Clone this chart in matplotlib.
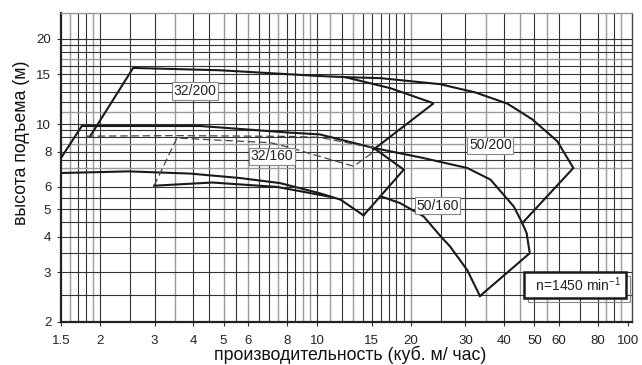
import matplotlib
matplotlib.use('Agg')
import matplotlib.pyplot as plt
from matplotlib.ticker import FixedLocator, FixedFormatter, NullLocator
from matplotlib.patches import Rectangle
from matplotlib.transforms import IdentityTransform

plt.rcParams['font.family'] = ['Liberation Sans', 'DejaVu Sans']
plt.rcParams['mathtext.fontset'] = 'custom'
plt.rcParams['mathtext.rm'] = 'Liberation Sans'
plt.rcParams['mathtext.it'] = 'Liberation Sans'

# ---------------- data ----------------
x_ticks = [1.5, 2, 3, 4, 5, 6, 8, 10, 15, 20, 30, 40, 50, 60, 80, 100]
x_tick_labels = ['1.5', '2', '3', '4', '5', '6', '8', '10', '15', '20', '30', '40', '50', '60', '80', '100']
y_ticks = [2, 3, 4, 5, 6, 8, 10, 15, 20]
y_tick_labels = ['2', '3', '4', '5', '6', '8', '10', '15', '20']

grid_x_dark = [1.7, 1.8, 2, 2.5, 3, 4, 4.5, 5.5, 6.5, 7, 8, 8.5, 10, 12, 14, 15, 16, 17, 18, 19,
               25, 30, 40, 50, 60, 70, 80, 90]
grid_x_light = [1.6, 1.9, 3.5, 5, 6, 7.5, 9, 9.5, 11, 13, 20, 35, 45, 55, 85, 95]
grid_y_dark = [2.5, 3, 3.5, 4, 4.5, 5, 5.5, 6, 7.5, 8, 9, 9.5, 10, 12, 13, 14, 15, 16, 18, 19, 20]
grid_y_light = [7, 8.5, 11, 17]

# 32/200: left edge, max-impeller curve, right edge
q_32_200 = [1.86, 2.56, 4.88, 10.1, 12.3, 17.2, 23.7, 15.2]
h_32_200 = [9.05, 15.8, 15.5, 14.8, 14.66, 13.4, 11.85, 8.14]

# 50/200: max-impeller curve branch and right edge
q_50_200 = [12.3, 16.0, 24.9, 32.3, 40.9, 49.2, 59.2, 66.7, 45.7]
h_50_200 = [14.66, 14.54, 13.84, 12.94, 11.82, 10.4, 8.71, 7.0, 4.47]

# 160 impeller upper curve (common part)
q_160_top = [1.5, 1.75, 4.21, 8.2, 10.2, 15.2]
h_160_top = [7.59, 9.85, 9.85, 9.33, 9.2, 8.24]

# 32/160 right corner and edge
q_32_160_edge = [15.2, 19.0, 14.1]
h_32_160_edge = [8.24, 6.91, 4.76]

# 50/160 upper curve continuation and right edge
q_50_160_top = [15.2, 21.5, 30.4, 36.1, 42.9, 45.7, 47.2, 48.3, 33.4]
h_50_160_top = [8.24, 7.63, 7.0, 6.37, 5.12, 4.47, 4.12, 3.50, 2.47]

# lower curves
q_low1 = [1.5, 2.47, 3.9, 5.66, 7.6, 10.2, 11.9, 14.1]
h_low1 = [6.72, 6.81, 6.69, 6.45, 6.19, 5.70, 5.41, 4.76]
q_low2 = [2.99, 4.6, 7.44, 11.0]
h_low2 = [6.06, 6.22, 6.0, 5.54]
q_50_160_low = [16.0, 18.5, 22.0, 24.9, 26.8, 30.4, 33.4]
h_50_160_low = [5.56, 5.26, 4.72, 4.03, 3.69, 3.05, 2.47]

# dashed lines
q_dash_up = [1.81, 3.54, 8.2, 10.2, 15.2]
h_dash_up = [9.07, 9.11, 9.05, 8.98, 8.24]
q_dash_low = [2.99, 3.54, 7.07, 8.2, 13.1, 15.2]
h_dash_low = [6.06, 8.93, 8.6, 8.25, 7.1, 7.98]

labels = ['32/200', '32/160', '50/200', '50/160']
label_q = [4.05, 7.17, 36.1, 24.4]
label_h = [13.1, 7.69, 8.41, 5.15]
speed_text = r'  n=1450 min$^{-1}$ '
speed_q, speed_h = 67.4, 2.7

# ---------------- figure ----------------
fig = plt.figure(figsize=(6.42, 3.65), dpi=100)
ax = fig.add_axes([61/642, 1 - 322/365, (632 - 61)/642, (322 - 13)/365])
ax.set_xscale('log')
ax.set_yscale('log')
ax.set_xlim(1.5, 103)
ax.set_ylim(2, 24.7)

dark = '#333333'
light = '#9a9a9a'
for v in grid_x_dark:
    ax.axvline(v, color=dark, lw=0.8, zorder=1)
for v in grid_x_light:
    ax.axvline(v, color=light, lw=1.0, zorder=1)
for v in grid_y_dark:
    ax.axhline(v, color=dark, lw=0.8, zorder=1)
for v in grid_y_light:
    ax.axhline(v, color=light, lw=1.0, zorder=1)

curve_kw = dict(color='#1a1a1a', lw=1.5, zorder=3, solid_joinstyle='miter')
for q, h in [(q_32_200, h_32_200), (q_50_200, h_50_200), (q_160_top, h_160_top),
             (q_32_160_edge, h_32_160_edge), (q_50_160_top, h_50_160_top),
             (q_low1, h_low1), (q_low2, h_low2), (q_50_160_low, h_50_160_low)]:
    ax.plot(q, h, **curve_kw)

dash_kw = dict(color='#444444', lw=0.9, zorder=3, dashes=(6, 3))
ax.plot(q_dash_up, h_dash_up, **dash_kw)
ax.plot(q_dash_low, h_dash_low, **dash_kw)

for t, q, h in zip(labels, label_q, label_h):
    ax.text(q, h, t, ha='center', va='center', fontsize=10, color='#222222', zorder=5,
            bbox=dict(boxstyle='square,pad=0.12', fc='white', ec='#888888', lw=0.8))

speed = ax.text(speed_q, speed_h, speed_text, ha='center', va='center', fontsize=10,
                color='#222222', zorder=6,
                bbox=dict(boxstyle='square,pad=0.28', fc='white', ec='#1a1a1a', lw=1.8))

ax.xaxis.set_major_locator(FixedLocator(x_ticks))
ax.xaxis.set_major_formatter(FixedFormatter(x_tick_labels))
ax.xaxis.set_minor_locator(NullLocator())
ax.yaxis.set_major_locator(FixedLocator(y_ticks))
ax.yaxis.set_major_formatter(FixedFormatter(y_tick_labels))
ax.yaxis.set_minor_locator(NullLocator())
ax.tick_params(axis='both', labelsize=9.5, length=3, width=0.8, color='#333333', labelcolor='#222222')
ax.tick_params(axis='x', pad=6)
ax.tick_params(axis='y', pad=4)

for s in ['left', 'bottom']:
    ax.spines[s].set_linewidth(1.6)
    ax.spines[s].set_color('#222222')
ax.spines['top'].set_color('#999999')
ax.spines['top'].set_linewidth(1.0)
ax.spines['right'].set_color('#444444')
ax.spines['right'].set_linewidth(1.0)

ax.set_xlabel('производительность (куб. м/ час)', fontsize=12.8, color='#111111')
ax.set_ylabel('высота подъема (м)', fontsize=12.8, color='#111111')
ax.xaxis.set_label_coords(0.507, -0.076)
ax.yaxis.set_label_coords(-0.054, 0.58)

# shadow frame behind the speed box
fig.canvas.draw()
bb = speed.get_bbox_patch().get_window_extent()
shadow = Rectangle((bb.x0 + 4, bb.y0 - 4), bb.width, bb.height, transform=IdentityTransform(),
                   fc='none', ec='#888888', lw=0.8, zorder=5.5, clip_on=False)
ax.add_artist(shadow)

fig.savefig('out.png', dpi=100)
